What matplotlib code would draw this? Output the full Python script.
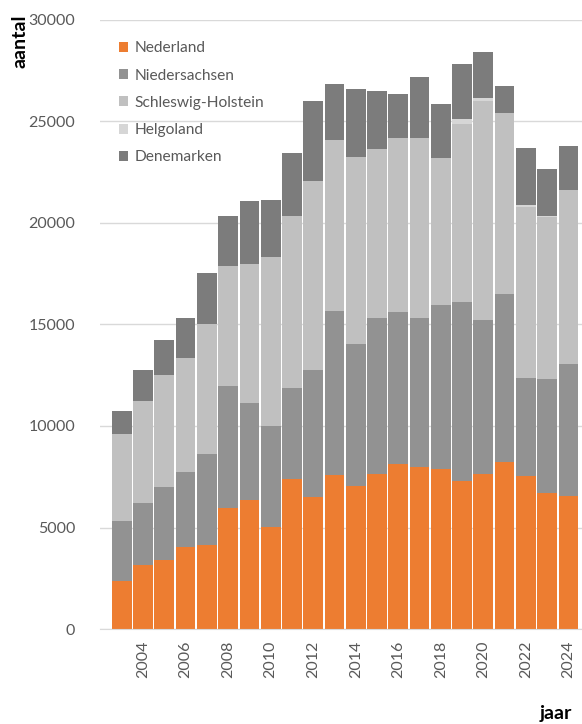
import matplotlib
matplotlib.use('Agg')
import matplotlib.pyplot as plt
import numpy as np

plt.rcParams['font.family'] = ['Lato', 'DejaVu Sans']

# aantallen per jaar en regio
jaren = list(range(2003, 2025))
nederland = [2350, 3170, 3400, 4040, 4140, 5980, 6370, 5020, 7370, 6520, 7600, 7060,
             7640, 8140, 8000, 7860, 7310, 7640, 8240, 7520, 6680, 6570]
niedersachsen = [2990, 3020, 3610, 3710, 4480, 6010, 4740, 4960, 4500, 6220, 8080, 6980,
                 7650, 7470, 7320, 8080, 8800, 7550, 8260, 4830, 5620, 6470]
schleswig_holstein = [4270, 5060, 5520, 5580, 6400, 5860, 6880, 8330, 8450, 9310, 8370, 9210,
                      8320, 8570, 8870, 7230, 8750, 10790, 8890, 8440, 7990, 8590]
helgoland = [0, 0, 0, 0, 0, 0, 0, 0, 0, 0, 0, 0,
             0, 0, 0, 0, 250, 150, 0, 100, 60, 0]
denemarken = [1150, 1490, 1720, 1990, 2490, 2500, 3070, 2830, 3120, 3960, 2760, 3350,
              2850, 2150, 2970, 2680, 2680, 2250, 1350, 2790, 2310, 2160]

reeksen = [
    ('Nederland', nederland, '#ED7D31'),
    ('Niedersachsen', niedersachsen, '#929292'),
    ('Schleswig-Holstein', schleswig_holstein, '#C0C0C0'),
    ('Helgoland', helgoland, '#D6D6D6'),
    ('Denemarken', denemarken, '#7C7C7C'),
]

fig = plt.figure(figsize=(5.82, 7.24), dpi=100)
ax = fig.add_axes([0.172, 0.131, 0.828, 0.842])

onder = np.zeros(len(jaren))
for naam, waarden, kleur in reeksen:
    ax.bar(jaren, waarden, bottom=onder, width=0.93, color=kleur, label=naam, zorder=2)
    onder += np.array(waarden)

ax.set_ylim(0, 30000)
ax.set_xlim(2001.98, 2024.64)
ax.set_yticks(range(0, 30001, 5000))
ax.set_xticks(range(2004, 2025, 2))
ax.set_xticklabels([str(j) for j in range(2004, 2025, 2)], rotation=90)
ax.tick_params(axis='both', length=0, labelsize=11.5, colors='#595959')
ax.tick_params(axis='y', pad=18)
ax.tick_params(axis='x', pad=8)
ax.grid(axis='y', color='#D9D9D9', linewidth=1, zorder=0)
for s in ['top', 'right', 'left']:
    ax.spines[s].set_visible(False)
ax.spines['bottom'].set_color('#D9D9D9')

fig.text(0.035, 0.98, 'aantal', rotation=90, ha='center', va='top',
         fontsize=14, fontweight='bold', color='black')
fig.text(0.982, 0.003, 'jaar', ha='right', va='bottom',
         fontsize=14, fontweight='bold', color='black')

leg = ax.legend(loc='upper left', bbox_to_anchor=(0.01, 0.987), frameon=False,
                fontsize=11.2, labelcolor='#595959', handlelength=0.6, handleheight=0.6,
                handletextpad=0.4, labelspacing=0.85)

fig.savefig('out.png', dpi=100)
